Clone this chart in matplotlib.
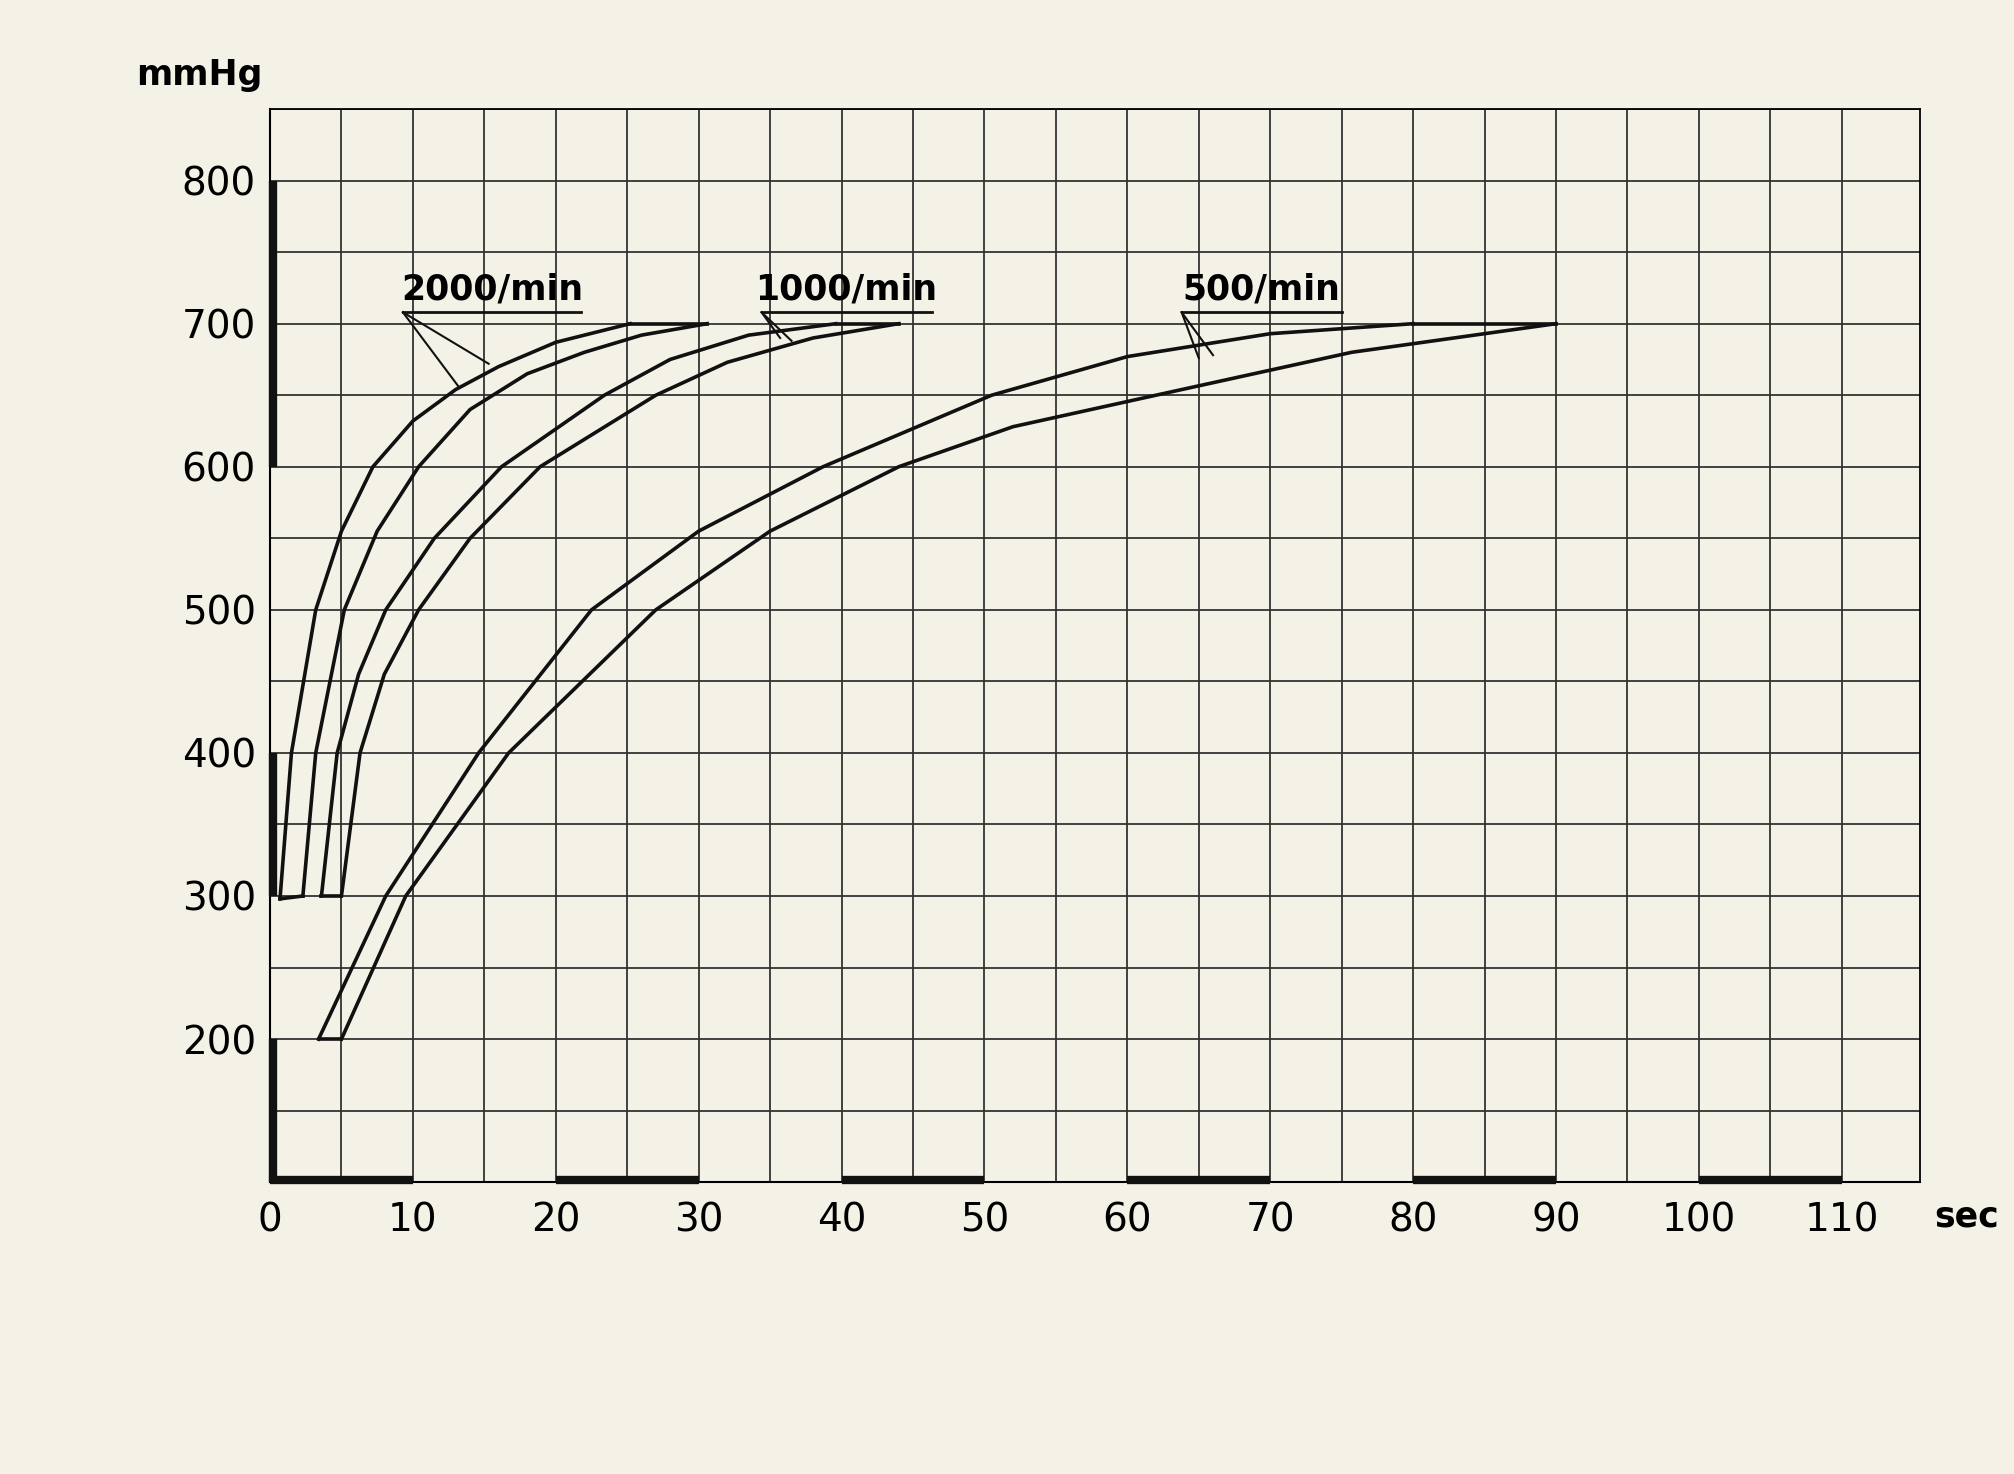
import numpy as np
import matplotlib.pyplot as plt

plt.rcParams['font.family'] = ['DejaVu Sans']

BG = '#f4f2e7'

# pressure curves: each band has an outer and inner boundary (sec, mmHg)
x2000_out = [0.7, 1.5, 3.2, 5.0, 7.2, 10.0, 13.0, 16.0, 20.0, 25.2]
y2000_out = [298, 400, 500, 555, 600, 632, 654, 670, 687, 700]
x2000_in = [2.3, 3.2, 5.2, 7.5, 10.4, 14.0, 18.0, 22.0, 26.0, 30.6]
y2000_in = [300, 400, 500, 555, 600, 640, 665, 680, 692, 700]

x1000_out = [3.6, 4.7, 6.2, 8.1, 11.5, 16.2, 23.4, 28.0, 33.5, 39.6]
y1000_out = [300, 400, 455, 500, 550, 600, 650, 675, 692, 700]
x1000_in = [5.0, 6.3, 8.0, 10.4, 14.0, 18.9, 27.0, 32.0, 38.0, 44.0]
y1000_in = [300, 400, 455, 500, 550, 600, 650, 673, 690, 700]

x500_out = [3.4, 8.1, 14.6, 22.5, 30.0, 38.7, 50.5, 60.0, 70.0, 80.0]
y500_out = [200, 300, 400, 500, 555, 600, 650, 677, 693, 700]
x500_in = [5.0, 9.5, 16.7, 27.0, 35.0, 44.0, 52.0, 62.0, 75.7, 90.0]
y500_in = [200, 300, 400, 500, 555, 600, 628, 650, 680, 700]

labels = ['2000/min', '1000/min', '500/min']
xticks = [0, 10, 20, 30, 40, 50, 60, 70, 80, 90, 100, 110]
yticks = [200, 300, 400, 500, 600, 700, 800]

fig = plt.figure(figsize=(20.15, 14.74), dpi=100, facecolor=BG)
ax = fig.add_axes([0.134, 0.198, 0.819, 0.728], facecolor=BG)
ax.set_xlim(0, 115.5)
ax.set_ylim(100, 850)

# grid every 5 sec / 50 mmHg
for gx in np.arange(5, 115, 5):
    ax.axvline(gx, color='#333333', lw=1.3, zorder=1)
for gy in np.arange(150, 851, 50):
    ax.axhline(gy, color='#333333', lw=1.3, zorder=1)
for s in ['top', 'right']:
    ax.spines[s].set_linewidth(1.3)
ax.spines['left'].set_linewidth(1.5)
ax.spines['bottom'].set_linewidth(1.5)

# thick axis segments
for a, b in [(0, 10), (20, 30), (40, 50), (60, 70), (80, 90), (100, 110)]:
    ax.plot([a, b], [101.5, 101.5], color='#111111', lw=6, solid_capstyle='butt', zorder=5, clip_on=False)
for a, b in [(600, 800), (300, 400), (100, 200)]:
    ax.plot([0.2, 0.2], [a, b], color='#111111', lw=6, solid_capstyle='butt', zorder=5, clip_on=False)

bands = [(x2000_out, y2000_out, x2000_in, y2000_in),
         (x1000_out, y1000_out, x1000_in, y1000_in),
         (x500_out, y500_out, x500_in, y500_in)]
for xo, yo, xi, yi in bands:
    ax.plot(xo, yo, color='#111111', lw=2.6, zorder=4, solid_joinstyle='round')
    ax.plot(xi, yi, color='#111111', lw=2.6, zorder=4, solid_joinstyle='round')
    ax.plot([xo[0], xi[0]], [yo[0], yi[0]], color='#111111', lw=2.6, zorder=4)
    ax.plot([xo[-1], xi[-1]], [yo[-1], yi[-1]], color='#111111', lw=2.6, zorder=4)

# labels with underline and leader lines
label_pos = [(9.3, 21.8, [(15.3, 672), (13.2, 656)]),
             (34.4, 46.3, [(35.7, 690), (36.5, 688)]),
             (63.8, 75.0, [(66.0, 678), (65.0, 676)])]
for text, (x0, x1, tgts) in zip(labels, label_pos):
    ax.text((x0 + x1) / 2, 712, text, ha='center', va='bottom', fontsize=25,
            fontweight='bold', zorder=6)
    ax.plot([x0, x1], [708, 708], color='#111111', lw=2, zorder=6)
    for tx, ty in tgts:
        ax.plot([x0, tx], [708, ty], color='#111111', lw=1.5, zorder=6)

ax.set_xticks(xticks)
ax.set_yticks(yticks)
ax.tick_params(length=0, labelsize=28, pad=14)
ax.tick_params(axis='y', pad=10)
ax.text(-0.5, 862, 'mmHg', ha='right', va='bottom', fontsize=25, fontweight='bold')
ax.text(116.5, 76, 'sec', ha='left', va='center', fontsize=25, fontweight='bold')

fig.savefig('out.png', dpi=100, facecolor=BG)
